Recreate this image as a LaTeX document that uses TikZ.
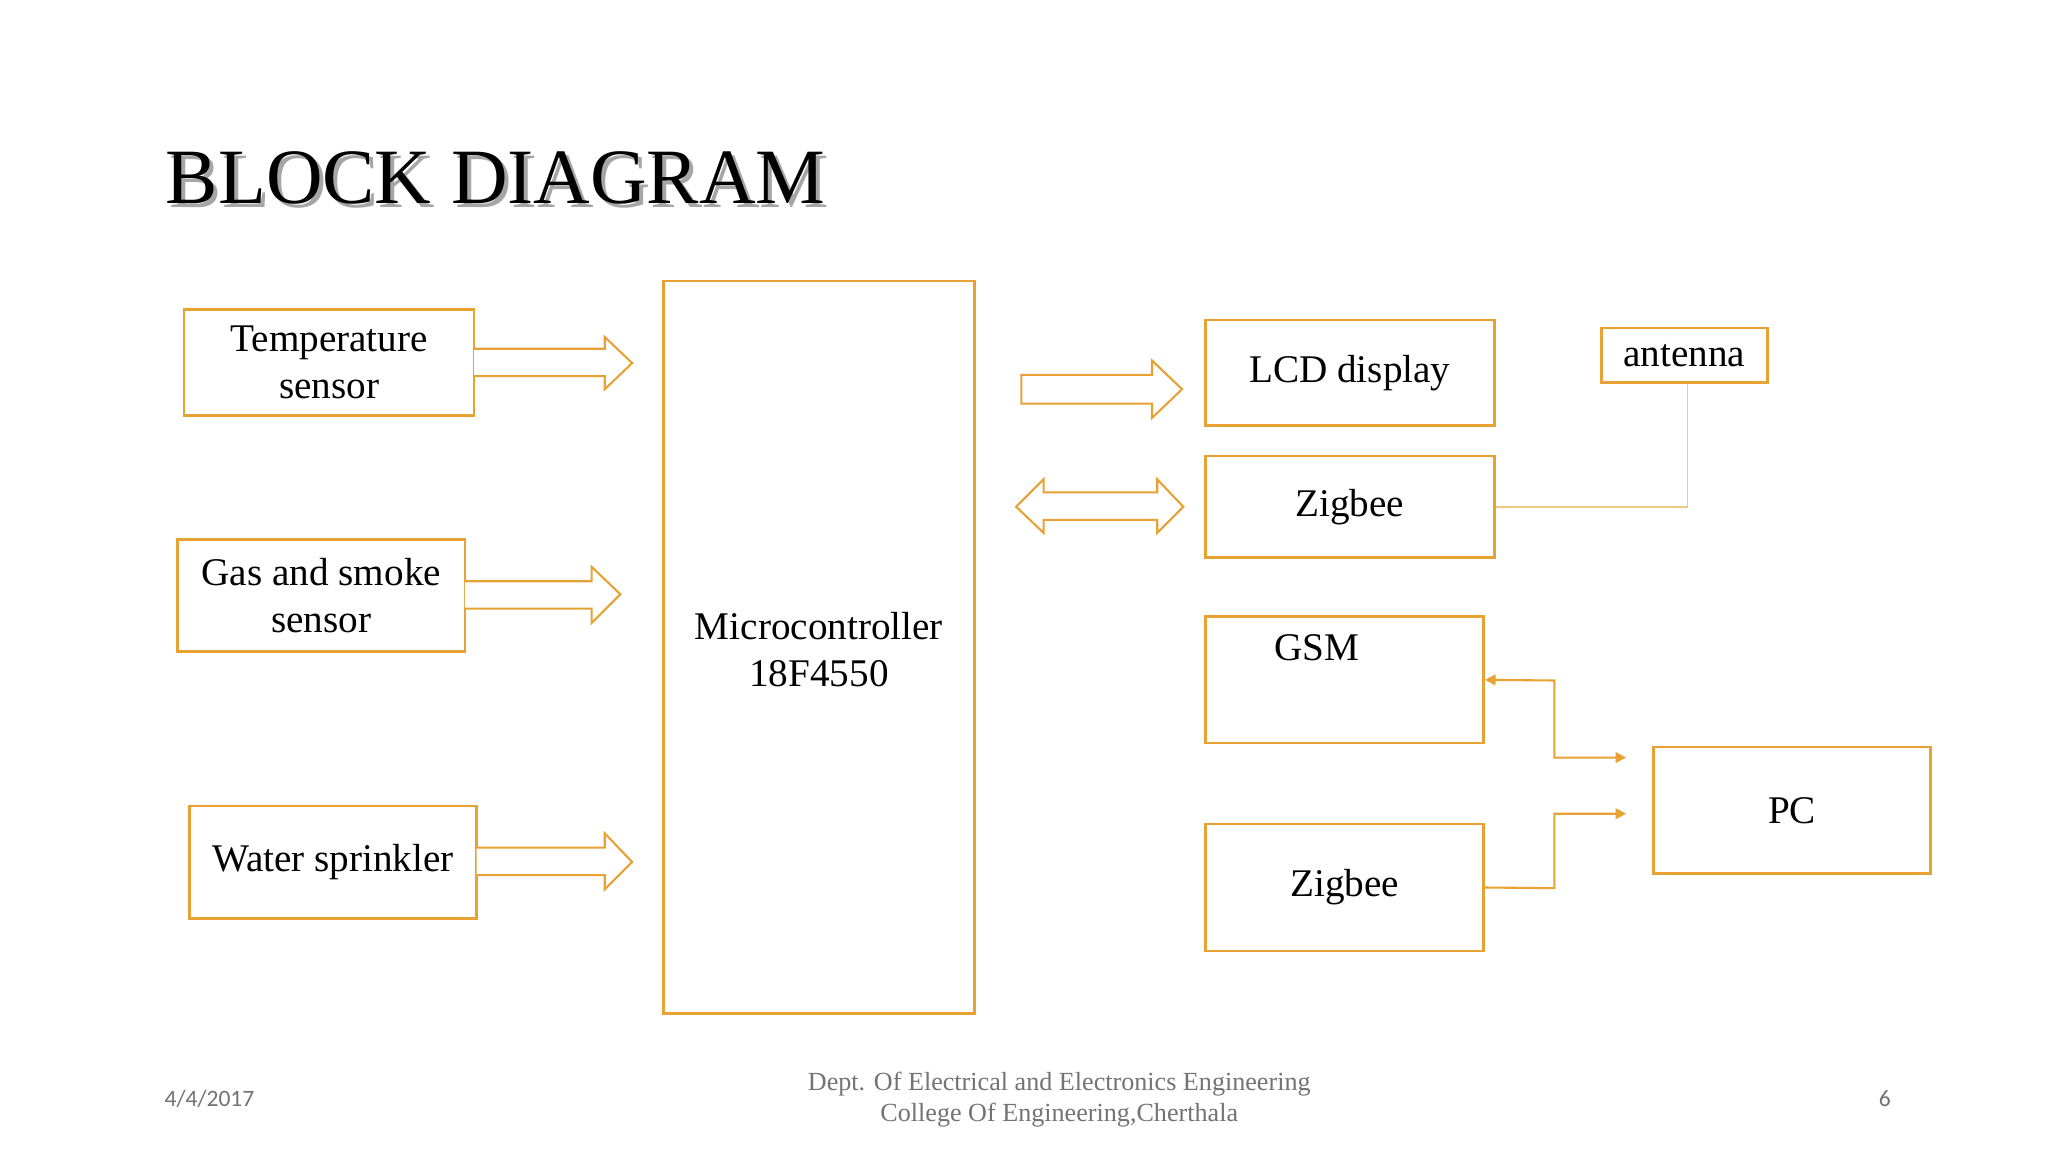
\documentclass[tikz,border=0pt]{standalone}
\usepackage{fontspec}
\setmainfont{Liberation Serif}
\newfontfamily\calfont{Carlito}
\usetikzlibrary{arrows.meta}
\definecolor{org}{HTML}{E8A133}
\definecolor{lorg}{HTML}{F2C77E}
\tikzset{
  blk/.style={draw=org, line width=1pt, font=\fontsize{15}{18}\selectfont, align=center, inner sep=0pt},
  fat/.style={draw=org, line width=0.8pt, fill=white},
  conn/.style={draw=org, line width=0.8pt, -{Triangle[length=4pt,width=4pt]}},
}
\begin{document}
\begin{tikzpicture}[x=0.5pt,y=-0.5pt]
\useasboundingbox (0,0) rectangle (1568,882);
\fill[white] (0,0) rectangle (1568,882);
% title
\node[anchor=west, text=black!35, font=\fontsize{30}{34}\selectfont] at (123,139) {BLOCK DIAGRAM};
\node (title) [anchor=west, font=\fontsize{30}{34}\selectfont] at (120,136) {BLOCK DIAGRAM};
% boxes
\node (temp) [blk, minimum width=111pt, minimum height=40.5pt] at (252,277.5) {Temperature\\sensor};
\node (gas) [blk, minimum width=110pt, minimum height=43pt] at (246,456) {Gas and smoke\\sensor};
\node (water) [blk, minimum width=110pt, minimum height=43pt] at (255,660) {Water sprinkler};
\node (mcu) [blk, minimum width=119pt, minimum height=280.5pt] at (627,495.5) {};
\node at (627,497) [font=\fontsize{15}{18}\selectfont, align=center] {Microcontroller\\18F4550};
\node (lcd) [blk, minimum width=110.5pt, minimum height=40.5pt] at (1033.5,285.5) {LCD display};
\node (zig1) [blk, minimum width=110.5pt, minimum height=39pt] at (1033.5,388) {Zigbee};
\node (ant) [blk, minimum width=63.5pt, minimum height=21pt] at (1289.5,272) {antenna};
\node (gsm) [blk, minimum width=106.5pt, minimum height=48.5pt] at (1029.5,520.5) {};
\node at (1008,496) [font=\fontsize{15}{18}\selectfont] {GSM};
\node (zig2) [blk, minimum width=106.5pt, minimum height=48.5pt] at (1029.5,679.5) {Zigbee};
\node (pc) [blk, minimum width=106pt, minimum height=48.5pt] at (1372,620.5) {PC};
% fat arrows
\draw[fat] (363,267) -- (463,267) -- (463,258) -- (484,278) -- (463,298) -- (463,288) -- (363,288);
\draw[fat] (356,445) -- (453,445) -- (453,434) -- (475,455) -- (453,477) -- (453,466) -- (356,466);
\draw[fat] (365,649) -- (463,649) -- (463,638) -- (484,660) -- (463,681) -- (463,670) -- (365,670);
\draw[fat] (782,287) -- (882,287) -- (882,276) -- (905,298) -- (882,320) -- (882,309) -- (782,309) -- cycle;
\draw[fat] (778,388) -- (799,367) -- (799,377) -- (886,377) -- (886,367) -- (906,388) -- (886,408) -- (886,398) -- (799,398) -- (799,408) -- cycle;
% connectors
\coordinate (p1) at (1245,580);
\coordinate (p2) at (1245,623);
\draw[draw=lorg, line width=0.6pt] (zig1.east) -- (1292,388) -- (ant.south -| 1292,0);
\draw[conn, {Triangle[length=4pt,width=4pt]}-{Triangle[length=4pt,width=4pt]}] (gsm.east) -- (1190,521) -- (1190,580) -- (p1);
\draw[conn] (zig2.east) -- (1190,680) -- (1190,623) -- (p2);
% footer
\node[text=black!55, font=\calfont\fontsize{9}{11}\selectfont, anchor=west] at (119,841) {4/4/2017};
\node[text=black!55, font=\fontsize{10}{12}\selectfont, align=center] at (811,842) {Dept. Of Electrical and Electronics Engineering\\College Of Engineering,Cherthala};
\node[text=black!55, font=\calfont\fontsize{9}{11}\selectfont] at (1443,841) {6};
\end{tikzpicture}
\end{document}
